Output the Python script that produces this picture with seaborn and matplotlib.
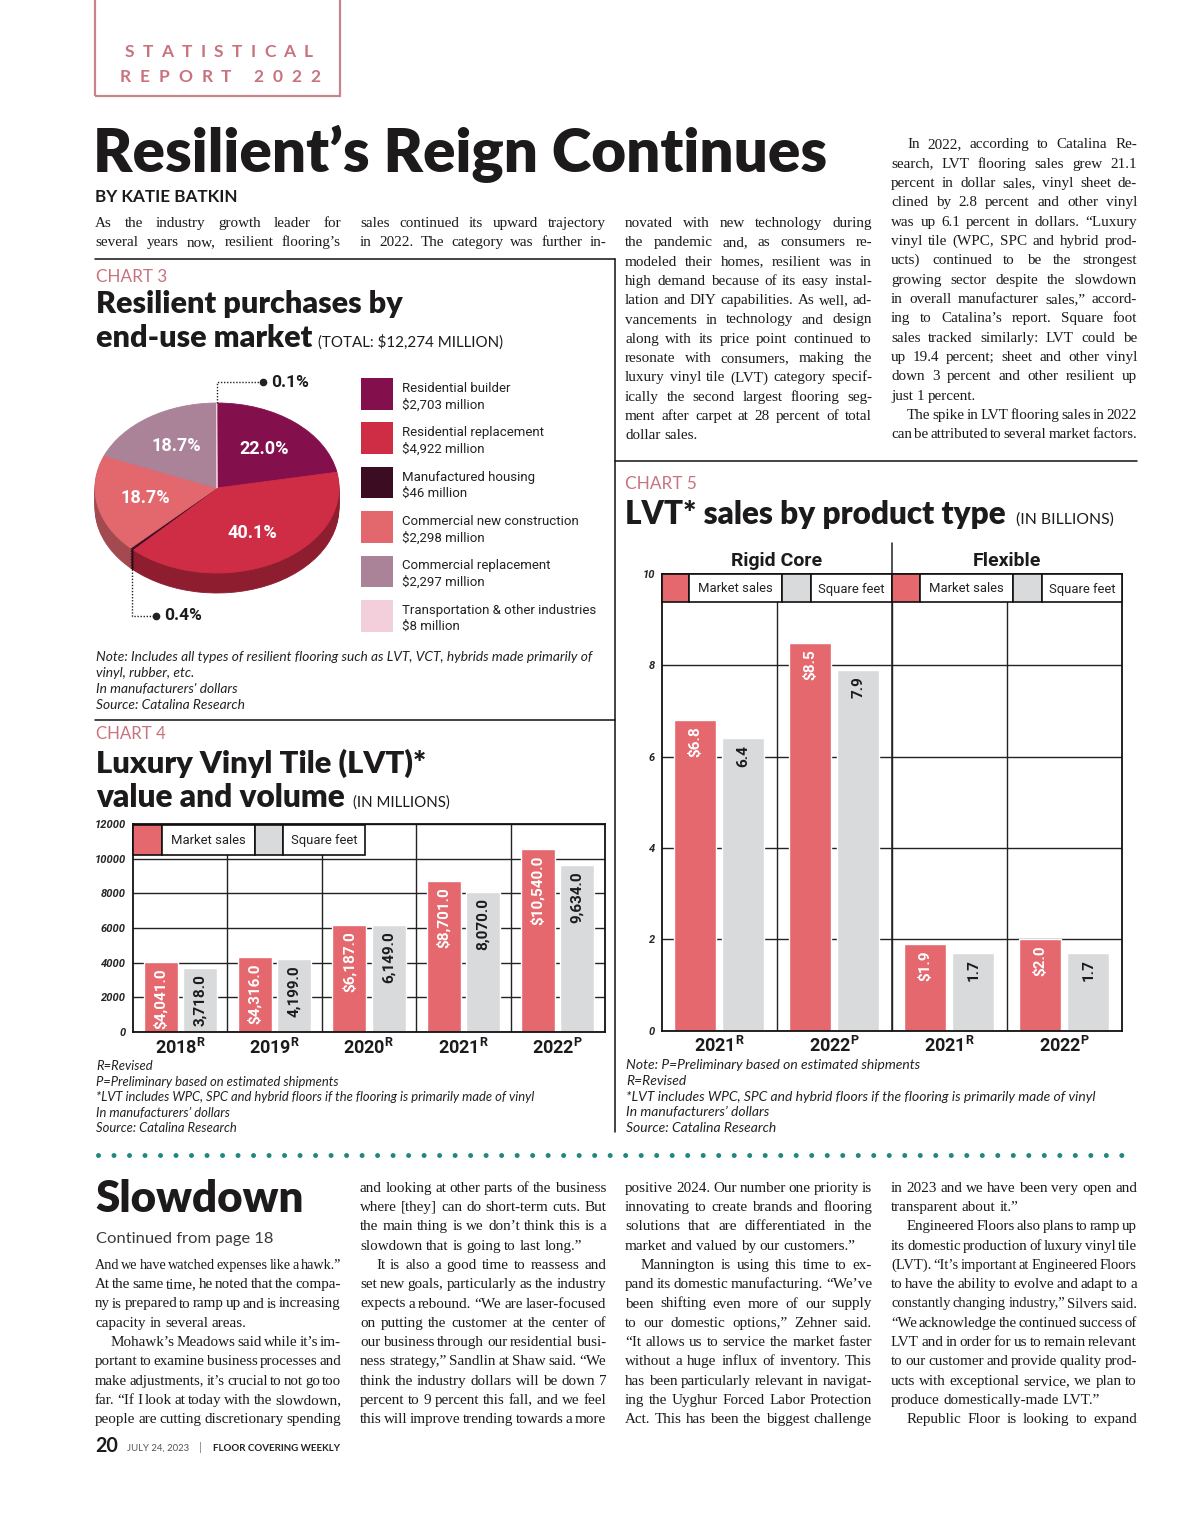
import numpy as np
import pandas as pd
import matplotlib
matplotlib.use("Agg")
import matplotlib.pyplot as plt
import seaborn as sns
from matplotlib.font_manager import FontProperties
from matplotlib.patches import Rectangle
from matplotlib.lines import Line2D
from matplotlib.transforms import blended_transform_factory

# ---- chart 3: resilient purchases by end-use market (millions) ----
segments = ["Residential builder", "Residential replacement", "Manufactured housing",
            "Commercial new construction", "Commercial replacement",
            "Transportation & other industries"]
seg_millions = [2703, 4922, 46, 2298, 2297, 8]
seg_colors = ["#83104d", "#cf2d45", "#3c0c23", "#e2686e", "#aa8399", "#f2cfdb"]
seg_side = ["#5c0a36", "#8e1d30", "#2a0818", "#a24a50", "#7d5f70", "#c9a9b5"]

# ---- chart 4: LVT value and volume (millions) ----
metrics = ["Market sales", "Square feet"]
years4 = ["2018", "2019", "2020", "2021", "2022"]
flags4 = ["R", "R", "R", "R", "P"]
market4 = [4041.0, 4316.0, 6187.0, 8701.0, 10540.0]
sqft4 = [3718.0, 4199.0, 6149.0, 8070.0, 9634.0]
yticks4 = [0, 2000, 4000, 6000, 8000, 10000, 12000]

# ---- chart 5: LVT sales by product type (billions) ----
groups5 = ["Rigid Core", "Rigid Core", "Flexible", "Flexible"]
years5 = ["2021", "2022", "2021", "2022"]
flags5 = ["R", "P", "R", "P"]
market5 = [6.8, 8.5, 1.9, 2.0]
sqft5 = [6.4, 7.9, 1.7, 1.7]
yticks5 = [0, 2, 4, 6, 8, 10]

PINK, GREY = "#e4686e", "#d9dadb"
ACCENT = "#c8737e"
INK = "#1c1a1b"
TEAL = "#22877d"

# article text (">" = paragraph indent, "¶" = last line of paragraph)
top_col1 = ["As the industry growth leader for", "several years now, resilient flooring’s"]
top_col2 = ["sales continued its upward trajectory", "in 2022. The category was further in-"]
top_col3 = ["novated with new technology during", "the pandemic and, as consumers re-",
            "modeled their homes, resilient was in", "high demand because of its easy instal-",
            "lation and DIY capabilities. As well, ad-", "vancements in technology and design",
            "along with its price point continued to", "resonate with consumers, making the",
            "luxury vinyl tile (LVT) category specif-", "ically the second largest flooring seg-",
            "ment after carpet at 28 percent of total", "dollar sales.¶"]
top_col4 = [">In 2022, according to Catalina Re-", "search, LVT flooring sales grew 21.1",
            "percent in dollar sales, vinyl sheet de-", "clined by 2.8 percent and other vinyl",
            "was up 6.1 percent in dollars. “Luxury", "vinyl tile (WPC, SPC and hybrid prod-",
            "ucts) continued to be the strongest", "growing sector despite the slowdown",
            "in overall manufacturer sales,” accord-", "ing to Catalina’s report. Square foot",
            "sales tracked similarly: LVT could be", "up 19.4 percent; sheet and other vinyl",
            "down 3 percent and other resilient up", "just 1 percent.¶",
            ">The spike in LVT flooring sales in 2022", "can be attributed to several market factors."]
bot_col1 = ["And we have watched expenses like a hawk.”", "At the same time, he noted that the compa-",
            "ny is prepared to ramp up and is increasing", "capacity in several areas.¶",
            ">Mohawk’s Meadows said while it’s im-", "portant to examine business processes and",
            "make adjustments, it’s crucial to not go too", "far. “If I look at today with the slowdown,",
            "people are cutting discretionary spending"]
bot_col2 = ["and looking at other parts of the business", "where [they] can do short-term cuts. But",
            "the main thing is we don’t think this is a", "slowdown that is going to last long.”¶",
            ">It is also a good time to reassess and", "set new goals, particularly as the industry",
            "expects a rebound. “We are laser-focused", "on putting the customer at the center of",
            "our business through our residential busi-", "ness strategy,” Sandlin at Shaw said. “We",
            "think the industry dollars will be down 7", "percent to 9 percent this fall, and we feel",
            "this will improve trending towards a more"]
bot_col3 = ["positive 2024. Our number one priority is", "innovating to create brands and flooring",
            "solutions that are differentiated in the", "market and valued by our customers.”¶",
            ">Mannington is using this time to ex-", "pand its domestic manufacturing. “We’ve",
            "been shifting even more of our supply", "to our domestic options,” Zehner said.",
            "“It allows us to service the market faster", "without a huge influx of inventory. This",
            "has been particularly relevant in navigat-", "ing the Uyghur Forced Labor Protection",
            "Act. This has been the biggest challenge"]
bot_col4 = ["in 2023 and we have been very open and", "transparent about it.”¶",
            ">Engineered Floors also plans to ramp up", "its domestic production of luxury vinyl tile",
            "(LVT). “It’s important at Engineered Floors", "to have the ability to evolve and adapt to a",
            "constantly changing industry,” Silvers said.", "“We acknowledge the continued success of",
            "LVT and in order for us to remain relevant", "to our customer and provide quality prod-",
            "ucts with exceptional service, we plan to", "produce domestically-made LVT.”¶",
            ">Republic Floor is looking to expand"]

note3 = ["Note: Includes all types of resilient flooring such as LVT, VCT, hybrids made primarily of",
         "vinyl, rubber, etc.", "In manufacturers' dollars", "Source: Catalina Research"]
note4 = ["R=Revised", "P=Preliminary based on estimated shipments",
         "*LVT includes WPC, SPC and hybrid floors if the flooring is primarily made of vinyl",
         "In manufacturers’ dollars", "Source: Catalina Research"]
note5 = ["Note: P=Preliminary based on estimated shipments", "R=Revised",
         "*LVT includes WPC, SPC and hybrid floors if the flooring is primarily made of vinyl",
         "In manufacturers’ dollars", "Source: Catalina Research"]

sns.set_style("white")
SANS = ["Lato", "DejaVu Sans"]
NARROW = ["Liberation Sans Narrow", "Roboto", "DejaVu Sans"]
SERIF = ["Liberation Serif", "DejaVu Serif"]
plt.rcParams["font.family"] = SANS

W, H = 1200, 1516
fig = plt.figure(figsize=(12, 15.16), dpi=100)
fig.patch.set_facecolor("white")
R = fig.canvas.get_renderer()


def fx(x):
    return x / W


def fy(y):
    return 1 - y / H


def rect(x0, y0, x1, y1):
    return [x0 / W, 1 - y1 / H, (x1 - x0) / W, (y1 - y0) / H]


def fp(family, size, weight="normal", style="normal"):
    return FontProperties(family=family, size=size, weight=weight, style=style)


def width(s, prop):
    return R.get_text_width_height_descent(s, prop, ismath=False)[0]


def line(x0, y0, x1, y1, **kw):
    fig.add_artist(Line2D([fx(x0), fx(x1)], [fy(y0), fy(y1)], transform=fig.transFigure, **kw))


def box(x0, y0, x1, y1, **kw):
    fig.add_artist(Rectangle((fx(x0), fy(y1)), (x1 - x0) / W, (y1 - y0) / H,
                             transform=fig.transFigure, **kw))


def txt(x, y, s, prop, color=INK, **kw):
    fig.text(fx(x), fy(y), s, fontproperties=prop, color=color, va=kw.pop("va", "baseline"), **kw)


def fit_size(s, x0, x1, family, weight="normal", style="normal"):
    return 20 * (x1 - x0) / width(s, fp(family, 20, weight, style))


def fit(x0, x1, yb, s, family, weight="normal", style="normal", color=INK):
    size = fit_size(s, x0, x1, family, weight, style)
    txt(x0, yb, s, fp(family, size, weight, style), color)
    return size


def tracked(x0, x1, yb, s, prop, color):
    sp = width("n n", prop) - width("nn", prop)
    ws = [sp if c == " " else width(c, prop) for c in s]
    track = (x1 - x0 - sum(ws)) / (len(s) - 1)
    x = x0
    for c, w in zip(s, ws):
        if c != " ":
            txt(x, yb, c, prop, color)
        x += w + track


def column(x0, x1, y0, pitch, lines, size=10.9):
    for i, raw in enumerate(lines):
        indent = 16 if raw.startswith(">") else 0
        last = raw.endswith("¶")
        words = raw.strip(">¶").split()
        prop = fp(SERIF, size)
        ws = [width(w, prop) for w in words]
        sp = width("n n", prop) - width("nn", prop)
        avail = x1 - x0 - indent
        natural = sum(ws) + 0.55 * sp * (len(words) - 1)
        if natural > avail:
            k = avail / natural
            prop = fp(SERIF, size * k)
            ws = [w * k for w in ws]
            sp *= k
        gap = sp if (last or len(words) == 1) else (avail - sum(ws)) / (len(words) - 1)
        x = x0 + indent
        for w, wd in zip(words, ws):
            txt(x, y0 + i * pitch, w, prop)
            x += wd + gap


def note_block(x0, x1, y0, pitch, lines, longest):
    size = fit_size(lines[longest], x0, x1, SANS, style="italic")
    for i, s in enumerate(lines):
        txt(x0, y0 + i * pitch, s, fp(SANS, size, style="italic"), "#222222")


HEAD = "heavy"

# ---------------- header + article top ----------------
box(95, -5, 340, 96, fc="none", ec="#c9838a", lw=1.6)
hp = fp(SANS, 12.5, "bold")
tracked(125, 313, 56.7, "STATISTICAL", hp, ACCENT)
tracked(120, 320, 81.7, "REPORT 2022", hp, ACCENT)
fit(93, 828, 172, "Resilient’s Reign Continues", SANS, HEAD)
fit(95, 238, 202, "BY KATIE BATKIN", SANS, "bold")

column(95, 341, 227, 19.4, top_col1)
column(360, 606, 227, 19.4, top_col2)
column(625, 872, 227, 19.3, top_col3)
column(891, 1137, 148.3, 19.33, top_col4)

# frame lines
line(95, 258.5, 615, 258.5, color="#111", lw=1.1)
line(615, 258.5, 615, 1132, color="#111", lw=1.1)
line(95, 720, 615, 720, color="#111", lw=1.1)
line(615, 461, 1137, 461, color="#111", lw=1.1)

# ---------------- chart 3 ----------------
fit(96, 167, 282, "CHART 3", SANS, color=ACCENT)
fit(96, 403, 313, "Resilient purchases by", SANS, HEAD)
fit(96, 312, 347, "end-use market", SANS, HEAD)
fit(318, 503, 347, "(TOTAL: $12,274 MILLION)", SANS)

axp = fig.add_axes(rect(95, 403, 339, 593))
depth = (593 - 403) / 85 - 2
for k in np.linspace(depth, 0, 14)[:-1]:
    side, _ = axp.pie(seg_millions, colors=seg_side, startangle=90, counterclock=False,
                      center=(0, -k))
    for w in side:
        w.set_edgecolor(w.get_facecolor())
        w.set_linewidth(0.6)
wedges, _, autotexts = axp.pie(
    seg_millions, colors=seg_colors, startangle=90, counterclock=False,
    autopct=lambda p: f"{p:.1f}%" if p > 1 else "", pctdistance=0.6,
    textprops=dict(color="white", fontproperties=fp(["Roboto", "DejaVu Sans"], 13, "bold")))
for w in wedges:
    w.set_edgecolor(w.get_facecolor())
    w.set_linewidth(0.6)
axp.set_aspect("auto")
axp.set_xlim(-1, 1)
axp.set_ylim(-1 - depth, 1)
axp.axis("off")

# callouts for the two tiny slices
callout_fp = fp(["Roboto", "DejaVu Sans"], 12.5, "bold")
for idx, bottom in [(5, False), (2, True)]:
    w = wedges[idx]
    ang = np.deg2rad((w.theta1 + w.theta2) / 2)
    ax_, ay_ = np.cos(ang), np.sin(ang) - (depth if bottom else 0)
    dy = -0.55 if bottom else 0.247
    ex = ax_ + (0.197 if bottom else 0.377)
    axp.plot([ax_, ax_, ex], [ay_, ay_ + dy, ay_ + dy], ls=(0, (1, 1.2)), color="#222", lw=1,
             clip_on=False)
    axp.plot([ex], [ay_ + dy], "o", ms=4.5, color="#222", clip_on=False)
    pct = 100 * seg_millions[idx] / sum(seg_millions)
    axp.text(ex + 0.07, ay_ + dy, f"{pct:.1f}%", va="center", ha="left", color=INK,
             fontproperties=callout_fp, clip_on=False)

# legend
lsize = fit_size("Transportation & other industries", 402, 596, NARROW)
for i, (name, val, col) in enumerate(zip(segments, seg_millions, seg_colors)):
    top = 378 + i * 44.4
    box(361, top, 392.5, top + 31.5, fc=col, ec="none")
    txt(402, top + 13.7, name, fp(NARROW, lsize), "#222")
    txt(402, top + 30.3, f"${val:,} million", fp(NARROW, lsize), "#222")

note_block(96, 590, 661, 16, note3, 0)

# ---------------- chart 4 ----------------
fit(96, 166, 739, "CHART 4", SANS, color=ACCENT)
fit(96, 427, 773, "Luxury Vinyl Tile (LVT)*", SANS, HEAD)
fit(96, 346, 806.5, "value and volume", SANS, HEAD)
fit(353, 450, 806.5, "(IN MILLIONS)", SANS)

lab4 = [f"{y}$^{{\\mathregular{{{f}}}}}$" for y, f in zip(years4, flags4)]
df4 = pd.DataFrame({"year": lab4 * 2, "metric": np.repeat(metrics, len(years4)),
                    "value": market4 + sqft4})
ax4 = fig.add_axes(rect(133, 824, 605, 1032))
sns.barplot(data=df4, x="year", y="value", hue="metric", hue_order=metrics,
            palette=[PINK, GREY], saturation=1, width=0.83, gap=0.13, legend=False,
            ax=ax4, zorder=2)

tick_fp = fp(NARROW, 8, "bold", "italic")
year_fp = fp(NARROW, 13, "bold")
bar_fp = fp(NARROW, 11, "bold")


def style_bars(ax, ymax, yticks, xlabels, nsep, values, fmts):
    ax.set_ylim(0, ymax)
    ax.set_xlim(-0.5, len(xlabels) - 0.5)
    ax.set_yticks(yticks)
    ax.set_yticklabels([str(v) for v in yticks])
    ax.set_xticks(range(len(xlabels)))
    ax.set_xticklabels(xlabels)
    for t in ax.get_yticklabels():
        t.set_fontproperties(tick_fp)
    for t in ax.get_xticklabels():
        t.set_fontproperties(year_fp)
        t.set_color(INK)
    ax.tick_params(axis="y", length=0, pad=5)
    ax.tick_params(axis="x", length=0, pad=4)
    ax.set_xlabel("")
    ax.set_ylabel("")
    ax.set_axisbelow(True)
    ax.grid(axis="y", color="#222", lw=1.0)
    ax.grid(axis="x", visible=False)
    for x in np.arange(nsep) + 0.5:
        ax.axvline(x, color="#222", lw=1.0, zorder=0.8)
    for s in ax.spines.values():
        s.set_visible(True)
        s.set_color("#111")
        s.set_linewidth(1.3)
    for cont, vals, fmt, col in zip(ax.containers, values, fmts, ["white", INK]):
        for bar, v in zip(cont, vals):
            ax.annotate(fmt.format(v), (bar.get_x() + bar.get_width() / 2, bar.get_height()),
                        xytext=(0, -4.5), textcoords="offset points", rotation=90,
                        ha="center", va="top", color=col, fontproperties=bar_fp, zorder=4)


style_bars(ax4, 12000, yticks4, lab4, len(years4) - 1, [market4, sqft4],
           ["${:,.1f}", "{:,.1f}"])

legend_size = fit_size("Market sales", 0, 74, NARROW)


def legend_row(y0, y1, xs):
    # xs: boundaries of swatch/text cells, two cells per metric
    for j, m in enumerate(metrics):
        a, b, c = xs[2 * j], xs[2 * j + 1], xs[2 * j + 2]
        box(a, y0, b, y1, fc=[PINK, GREY][j], ec="#111", lw=1.2)
        box(b, y0, c, y1, fc="white", ec="#111", lw=1.2)
        txt((b + c) / 2, (y0 + y1) / 2 + 1, m, fp(NARROW, legend_size), "#222",
            ha="center", va="center")


legend_row(824.5, 855, [133, 162, 255, 283, 365])
note_block(96, 535, 1070, 15.6, note4, 2)

# ---------------- chart 5 ----------------
fit(625, 697, 489, "CHART 5", SANS, color=ACCENT)
fit(625, 1007, 524, "LVT* sales by product type", SANS, HEAD)
fit(1016, 1113, 524, "(IN BILLIONS)", SANS)

cats5 = [f"{g} {y}" for g, y in zip(groups5, years5)]
lab5 = [f"{y}$^{{\\mathregular{{{f}}}}}$" for y, f in zip(years5, flags5)]
df5 = pd.DataFrame({"cat": cats5 * 2, "metric": np.repeat(metrics, len(cats5)),
                    "value": market5 + sqft5})
ax5 = fig.add_axes(rect(661.7, 574, 1122, 1030.7))
sns.barplot(data=df5, x="cat", y="value", hue="metric", hue_order=metrics,
            palette=[PINK, GREY], saturation=1, width=0.834, gap=0.125, legend=False,
            ax=ax5, zorder=2)
style_bars(ax5, 10, yticks5, lab5, len(cats5) - 1, [market5, sqft5], ["${:.1f}", "{:.1f}"])

# group headers and the taller divider between the product groups
blend = blended_transform_factory(ax5.transData, ax5.transAxes)
gnames = list(dict.fromkeys(groups5))
for g in gnames:
    pos = np.mean([i for i, gg in enumerate(groups5) if gg == g])
    ax5.annotate(g, (pos, 1), xycoords=blend, xytext=(0, 5.5), textcoords="offset points",
                 ha="center", va="baseline", color=INK, fontproperties=fp(NARROW, 14, "bold"))
split = groups5.count(gnames[0]) - 0.5
ax5.plot([split, split], [0, 1.068], transform=blend, color="#222", lw=1.1, clip_on=False)

legend_row(574, 602, [661.7, 689, 782, 810.7, 892.3])
legend_row(574, 602, [892.3, 920, 1013, 1041.7, 1122])
note_block(626, 1096, 1069, 15.8, note5, 2)

# ---------------- divider + continued article ----------------
fig.add_artist(Line2D([fx(98), fx(1136)], [fy(1154.5), fy(1154.5)], transform=fig.transFigure,
                      color=TEAL, lw=3.6, ls=(0, (0.001, 3.1)), dash_capstyle="round"))
fit(95, 304, 1211.7, "Slowdown", SANS, HEAD)
fit(96, 273, 1242.7, "Continued from page 18", SANS, "normal", color="#3a3a3a")
column(95, 341, 1191.7 + 4 * 19.3, 19.3, bot_col1)
column(360, 606, 1191.7, 19.3, bot_col2)
column(625, 872, 1191.7, 19.3, bot_col3)
column(891, 1137, 1191.7, 19.3, bot_col4)

fit(95, 118, 1451.7, "20", SANS, "bold")
fit(127, 190, 1451, "JULY 24, 2023", SANS, color="#555")
txt(199, 1451, "|", fp(SANS, 8), "#777")
fit(213, 341, 1451, "FLOOR COVERING WEEKLY", SANS, "bold", color="#222")

fig.savefig("out.png", dpi=100, facecolor="white")
